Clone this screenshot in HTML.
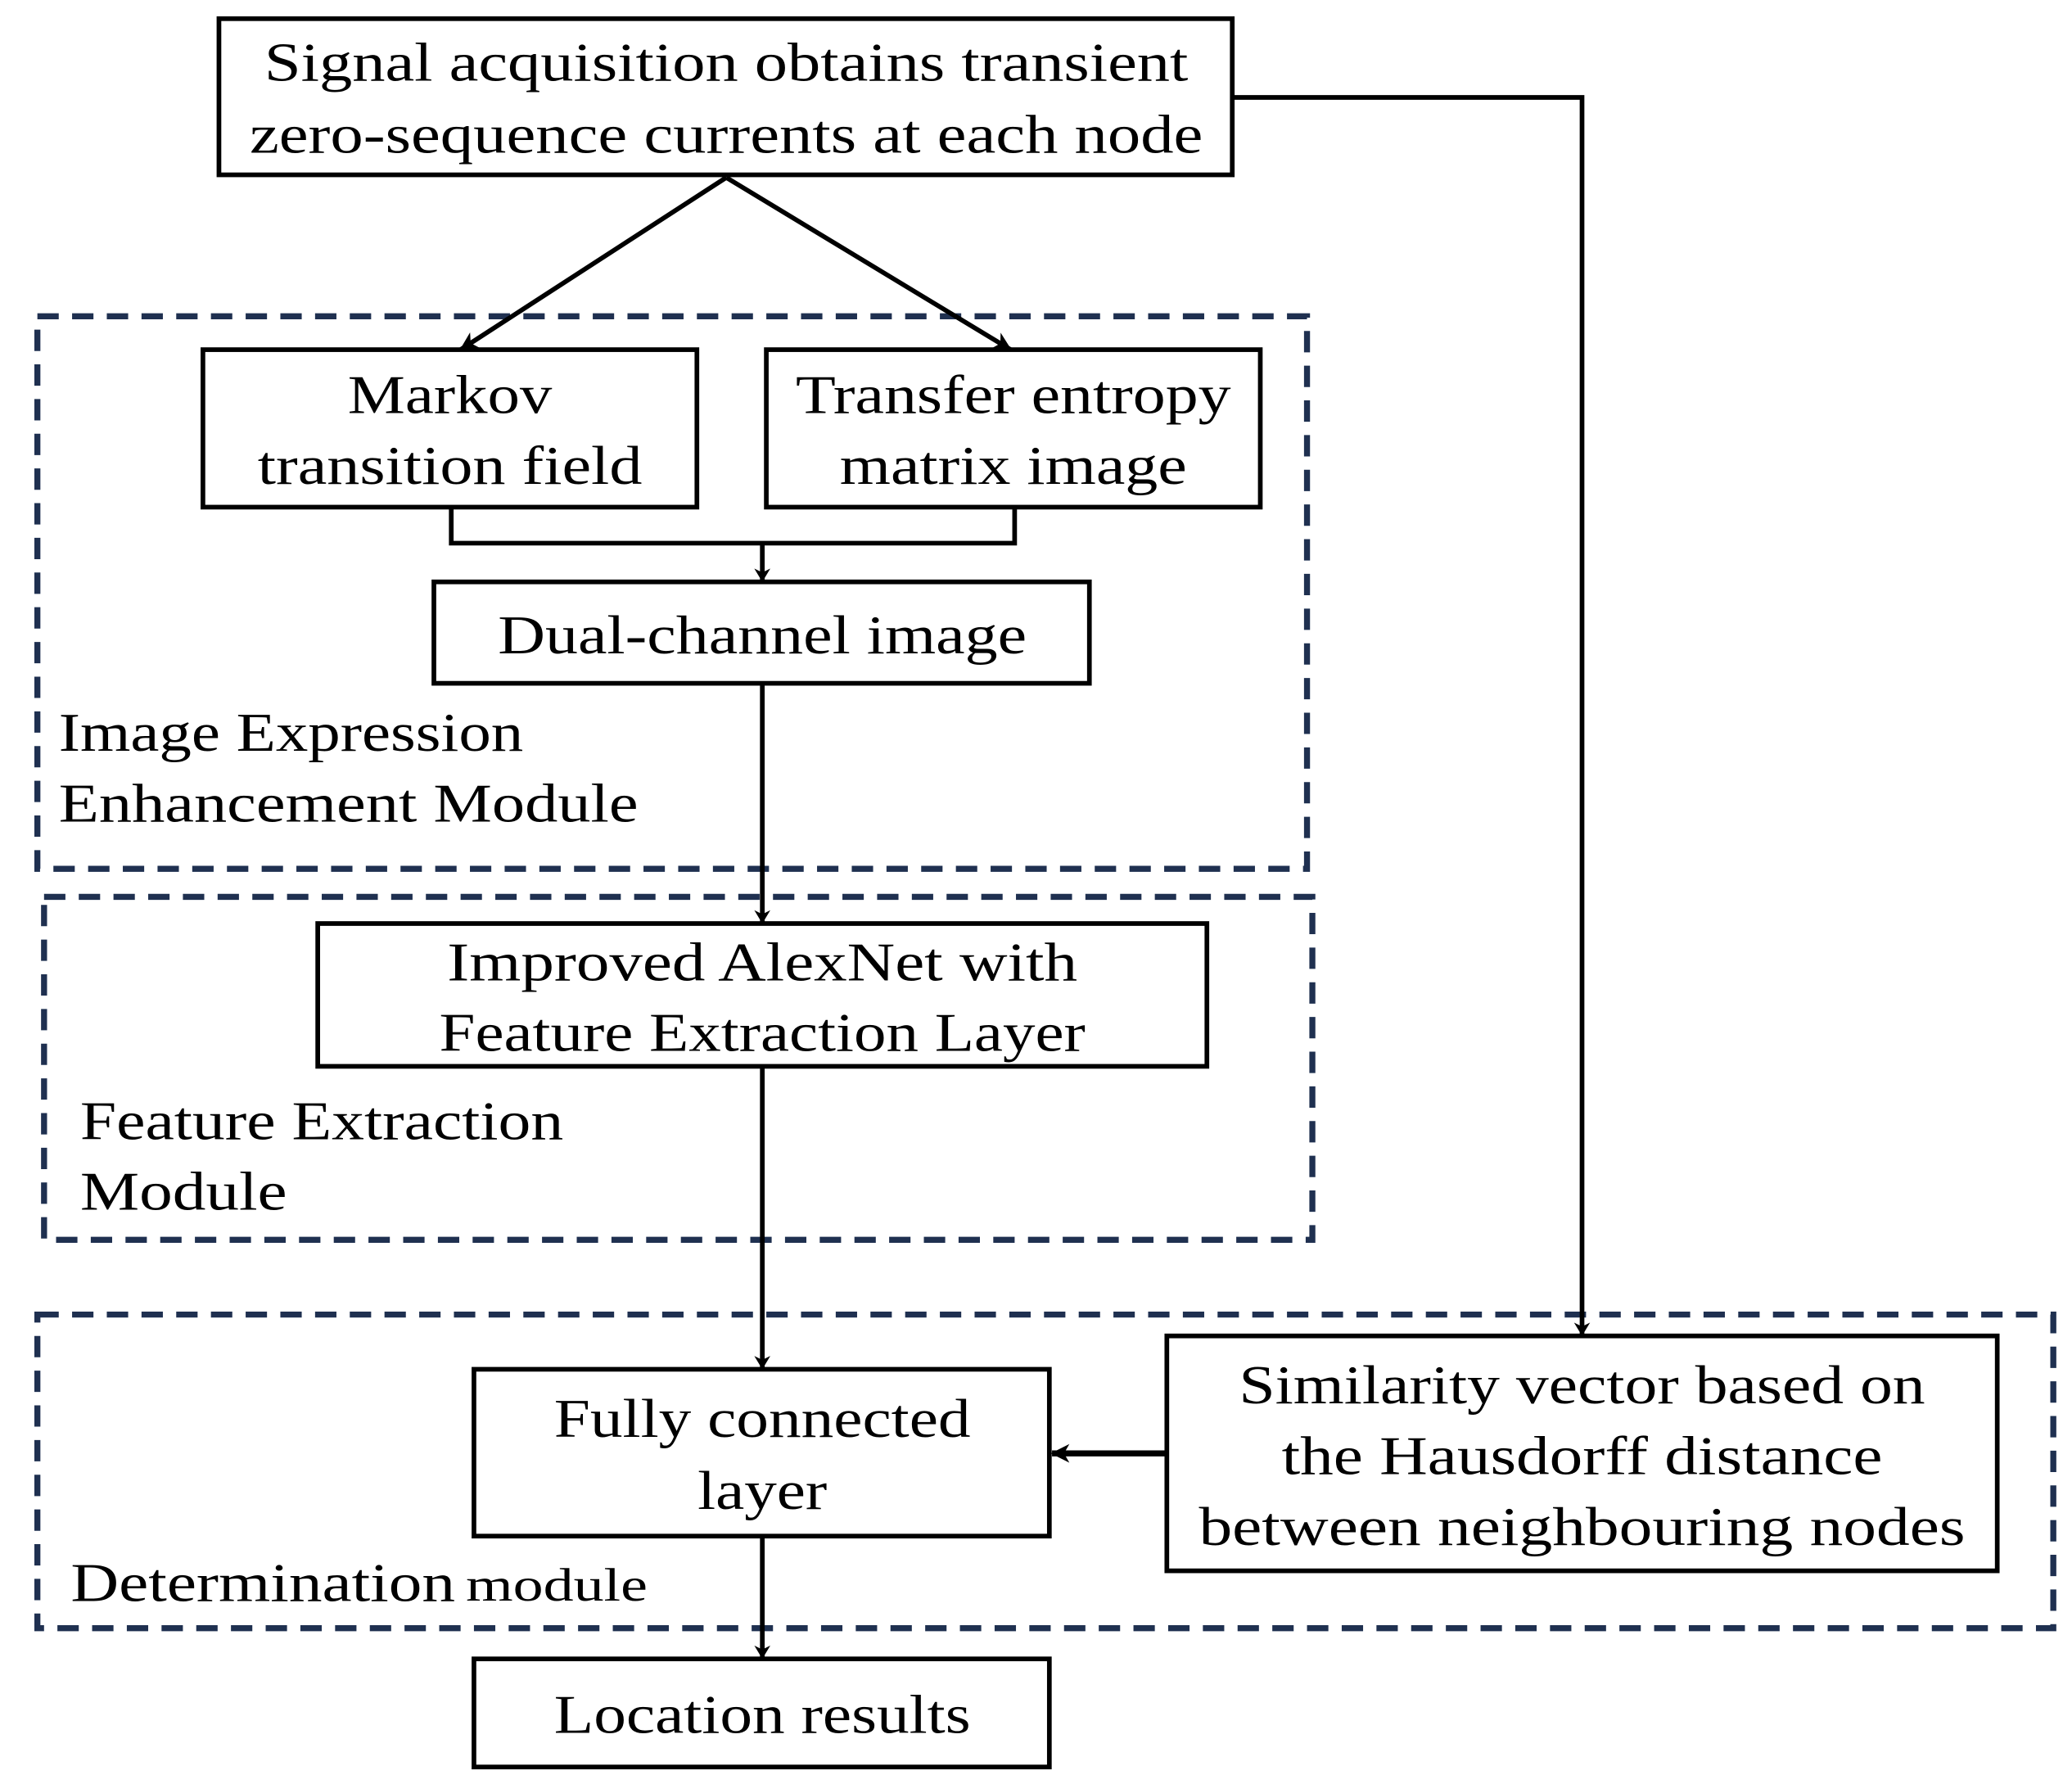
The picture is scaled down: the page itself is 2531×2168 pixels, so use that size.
<!DOCTYPE html>
<html><head><meta charset="utf-8"><style>html,body{margin:0;padding:0;background:#fff}svg{display:block}</style></head><body>
<svg width="2531" height="2168" viewBox="0 0 1552 1330" preserveAspectRatio="none" xmlns="http://www.w3.org/2000/svg">
<defs>
<marker id="a" markerWidth="10" markerHeight="12" refX="9" refY="6" orient="auto" markerUnits="userSpaceOnUse"><path d="M0,0 L10,6 L0,12 L3,6 z" fill="#000"/></marker>
<marker id="b" markerWidth="14" markerHeight="14" refX="13" refY="7" orient="auto" markerUnits="userSpaceOnUse"><path d="M0,0 L14,7 L0,14 L4,7 z" fill="#000"/></marker>
</defs>
<g fill="none" stroke="#1f3050" stroke-width="4.5" stroke-dasharray="16,10">
<rect x="28" y="237" width="951" height="414"/>
<rect x="33" y="672" width="950" height="257"/>
<rect x="28" y="985" width="1510" height="235"/>
</g>
<g fill="#fff" stroke="#000" stroke-width="3.5">
<rect x="164" y="14" width="759" height="117"/>
<rect x="152" y="262" width="370" height="118"/>
<rect x="574" y="262" width="370" height="118"/>
<rect x="325" y="436" width="491" height="76"/>
<rect x="238" y="692" width="666" height="107"/>
<rect x="355" y="1026" width="431" height="125"/>
<rect x="874" y="1001" width="622" height="176"/>
<rect x="355" y="1243" width="431" height="81"/>
</g>
<g fill="none" stroke="#000" stroke-width="3.5">
<polyline points="923,73 1185,73 1185,1000" marker-end="url(#a)"/>
<line x1="544" y1="133" x2="345" y2="262" marker-end="url(#b)"/>
<line x1="544" y1="133" x2="757" y2="262" marker-end="url(#b)"/>
<polyline points="338,380 338,407 760,407 760,380"/>
<line x1="571" y1="407" x2="571" y2="435" marker-end="url(#a)"/>
<line x1="571" y1="512" x2="571" y2="691" marker-end="url(#a)"/>
<line x1="571" y1="799" x2="571" y2="1025" marker-end="url(#a)"/>
<line x1="874" y1="1089" x2="788" y2="1089" stroke-width="4.5" marker-end="url(#b)"/>
<line x1="571" y1="1151" x2="571" y2="1242" marker-end="url(#a)"/>
</g>
<g font-family="'Liberation Serif', serif" font-size="41" fill="#000" dominant-baseline="central">
<text x="544" y="47" text-anchor="middle" textLength="692" lengthAdjust="spacingAndGlyphs">Signal acquisition obtains transient</text>
<text x="544" y="101" text-anchor="middle" textLength="714" lengthAdjust="spacingAndGlyphs">zero-sequence currents at each node</text>
<text x="337" y="296" text-anchor="middle" textLength="153" lengthAdjust="spacingAndGlyphs">Markov</text>
<text x="337" y="349" text-anchor="middle" textLength="288" lengthAdjust="spacingAndGlyphs">transition field</text>
<text x="759" y="296" text-anchor="middle" textLength="326" lengthAdjust="spacingAndGlyphs">Transfer entropy</text>
<text x="759" y="349" text-anchor="middle" textLength="260" lengthAdjust="spacingAndGlyphs">matrix image</text>
<text x="571" y="476" text-anchor="middle" textLength="396" lengthAdjust="spacingAndGlyphs">Dual-channel image</text>
<text x="44" y="549" textLength="348" lengthAdjust="spacingAndGlyphs">Image Expression</text>
<text x="44" y="602" textLength="434" lengthAdjust="spacingAndGlyphs">Enhancement Module</text>
<text x="571" y="721" text-anchor="middle" textLength="472" lengthAdjust="spacingAndGlyphs">Improved AlexNet with</text>
<text x="571" y="774" text-anchor="middle" textLength="484" lengthAdjust="spacingAndGlyphs">Feature Extraction Layer</text>
<text x="60" y="840" textLength="362" lengthAdjust="spacingAndGlyphs">Feature Extraction</text>
<text x="60" y="893" textLength="155" lengthAdjust="spacingAndGlyphs">Module</text>
<text x="571" y="1063" text-anchor="middle" textLength="312" lengthAdjust="spacingAndGlyphs">Fully connected</text>
<text x="571" y="1117" text-anchor="middle" textLength="97" lengthAdjust="spacingAndGlyphs">layer</text>
<text x="1185" y="1038" text-anchor="middle" textLength="514" lengthAdjust="spacingAndGlyphs">Similarity vector based on</text>
<text x="1185" y="1091" text-anchor="middle" textLength="450" lengthAdjust="spacingAndGlyphs">the Hausdorff distance</text>
<text x="1185" y="1144" text-anchor="middle" textLength="574" lengthAdjust="spacingAndGlyphs">between neighbouring nodes</text>
<text x="53" y="1186" textLength="288" lengthAdjust="spacingAndGlyphs">Determination</text>
<text x="349" y="1188" font-size="35" textLength="136" lengthAdjust="spacingAndGlyphs">module</text>
<text x="571" y="1285" text-anchor="middle" textLength="312" lengthAdjust="spacingAndGlyphs">Location results</text>
</g>
</svg>
</body></html>
